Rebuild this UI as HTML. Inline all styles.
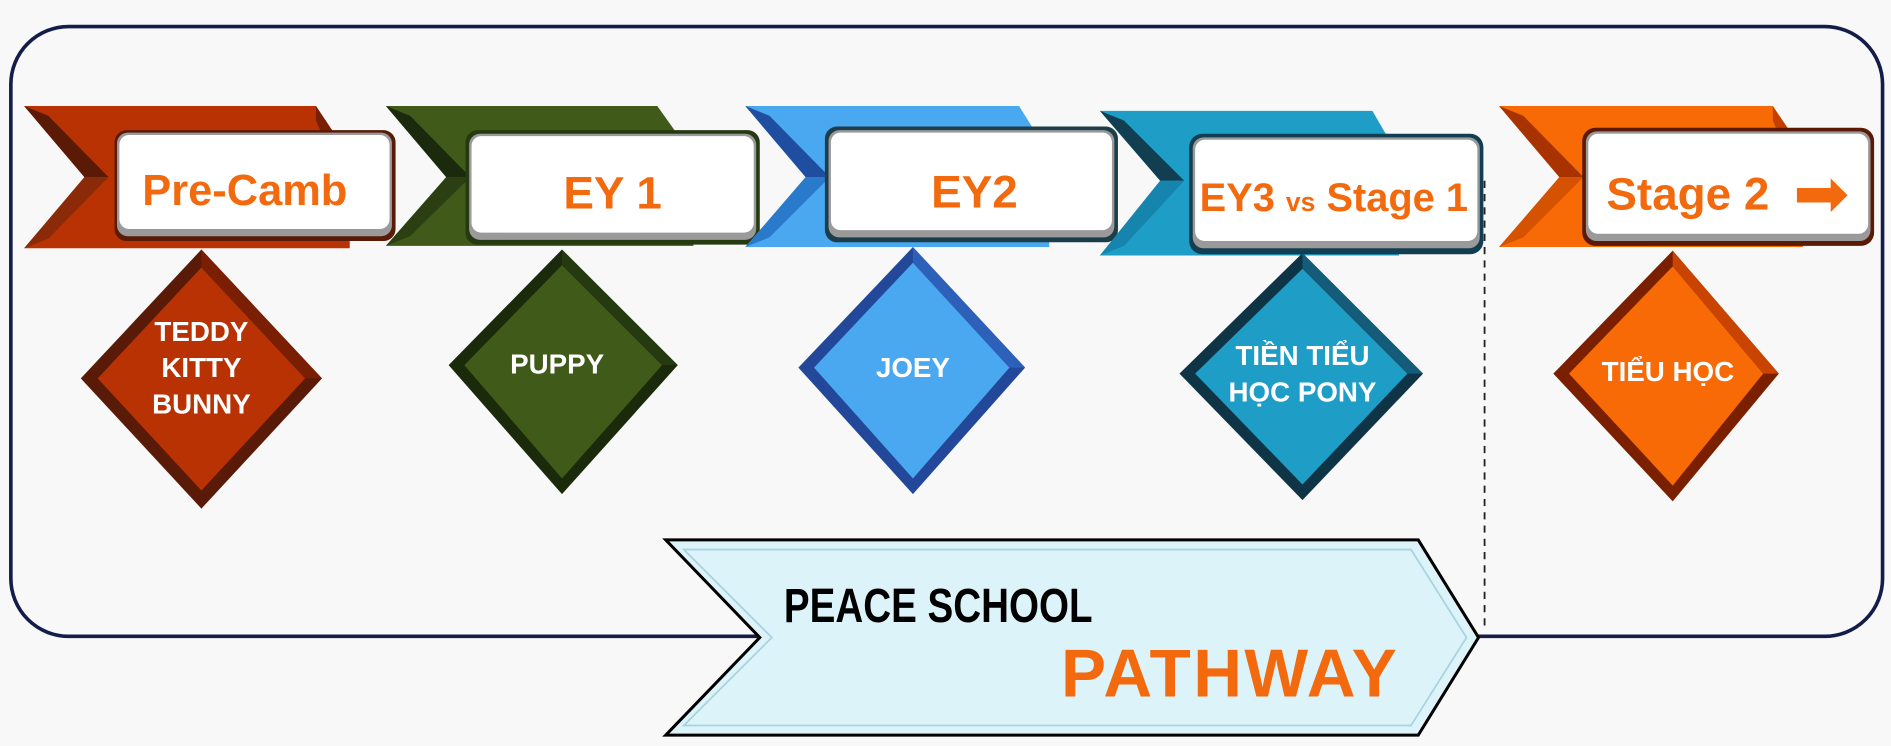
<!DOCTYPE html>
<html><head><meta charset="utf-8"><style>
html,body{margin:0;padding:0;background:#f8f8f8;width:1891px;height:746px;overflow:hidden}
svg{display:block}
.t{font-family:"Liberation Sans Narrow","Liberation Sans",sans-serif;font-weight:bold}
</style></head><body>
<svg width="1891" height="746" viewBox="0 0 1568 619" preserveAspectRatio="none" xmlns="http://www.w3.org/2000/svg">
<rect x="0" y="0" width="1568" height="619" fill="#f8f8f8"/>
<rect x="9" y="22" width="1552" height="506" rx="48" ry="48" fill="#f8f8f8" stroke="#141d4a" stroke-width="3"/>
<line x1="1231" y1="150" x2="1231" y2="522" stroke="#222" stroke-width="1.5" stroke-dasharray="6,5"/>

<!-- segment 1 red -->
<polygon points="20,88 262,88 290,130 290,206 20,206 70,147" fill="#b83204"/>
<polygon points="20,88 40,96 90,147 70,147" fill="#5a1a06"/>
<polygon points="20,206 70,147 90,147 40,198 " fill="#8a2a08"/>
<polygon points="262,88 290,130 275,130 262,100" fill="#7a1e04"/>
<rect x="95" y="108" width="233" height="92" rx="10" fill="#5a1a06"/>
<rect x="97" y="110" width="228" height="86" rx="9" fill="#9a9a9a"/>
<rect x="99" y="112" width="224" height="78" rx="8" fill="#fff"/>
<text class="t" x="203" y="170" font-size="36" fill="#f26a0d" text-anchor="middle">Pre-Camb</text>
<polygon points="167,207 267,314 167,422 67,314" fill="#5a1a08"/>
<polygon points="167,222 253,314 167,407 81,314" fill="#b83204"/>
<polygon points="167,207 167,222 253,314 267,314" fill="#7a1e04"/>
<text class="t" x="167" y="283" font-size="23" fill="#fff" text-anchor="middle">TEDDY</text>
<text class="t" x="167" y="313" font-size="23" fill="#fff" text-anchor="middle">KITTY</text>
<text class="t" x="167" y="343" font-size="23" fill="#fff" text-anchor="middle">BUNNY</text>

<!-- segment 2 green -->
<polygon points="320,88 545,88 575,130 575,204 320,204 370,147" fill="#3f5a19"/>
<polygon points="320,88 340,96 390,147 370,147" fill="#1b2a0c"/>
<polygon points="320,204 370,147 390,147 340,196" fill="#2b3f12"/>
<rect x="386" y="108" width="244" height="95" rx="10" fill="#253a10"/>
<rect x="389" y="111" width="238" height="88" rx="9" fill="#9a9a9a"/>
<rect x="391" y="113" width="234" height="80" rx="8" fill="#fff"/>
<text class="t" x="508" y="173" font-size="38" fill="#f26a0d" text-anchor="middle">EY 1</text>
<polygon points="466,207 562,303 466,410 372,303" fill="#1a2a0a"/>
<polygon points="466,220 549,303 466,397 385,303" fill="#3f5a19"/>
<polygon points="466,207 466,220 549,303 562,303" fill="#253a10"/>
<text class="t" x="462" y="310" font-size="23" fill="#fff" text-anchor="middle">PUPPY</text>

<!-- segment 3 blue -->
<polygon points="618,88 845,88 870,128 870,205 618,205 668,147" fill="#4aa8f0"/>
<polygon points="618,88 638,96 688,147 668,147" fill="#1f4ea0"/>
<polygon points="618,205 668,147 688,147 638,197" fill="#2a7acc"/>
<rect x="684" y="105" width="243" height="96" rx="10" fill="#1c3d4a"/>
<rect x="687" y="108" width="237" height="89" rx="9" fill="#9a9a9a"/>
<rect x="689" y="110" width="233" height="81" rx="8" fill="#fff"/>
<text class="t" x="808" y="172" font-size="38" fill="#f26a0d" text-anchor="middle">EY2</text>
<polygon points="757,205 850,305 757,410 662,305" fill="#23489a"/>
<polygon points="757,218 837,305 757,397 675,305" fill="#4aa8f0"/>
<polygon points="757,205 757,218 837,305 850,305" fill="#2d60b8"/>
<text class="t" x="757" y="313" font-size="23" fill="#fff" text-anchor="middle">JOEY</text>

<!-- segment 4 teal -->
<polygon points="912,92 1138,92 1160,130 1160,212 912,212 962,150" fill="#1e9ec6"/>
<polygon points="912,92 932,100 982,150 962,150" fill="#123e52"/>
<polygon points="912,212 962,150 982,150 932,204" fill="#1685ad"/>
<rect x="986" y="111" width="244" height="100" rx="11" fill="#123e52"/>
<rect x="989" y="114" width="238" height="92" rx="9" fill="#9a9a9a"/>
<rect x="991" y="116" width="234" height="84" rx="8" fill="#fff"/>
<text class="t" x="1106" y="175" font-size="33" fill="#f26a0d" text-anchor="middle">EY3 <tspan font-size="22">vs</tspan> Stage 1</text>
<polygon points="1080,210 1180,310 1080,415 978,310" fill="#0f3446"/>
<polygon points="1080,223 1167,310 1080,402 991,310" fill="#1e9ec6"/>
<polygon points="1080,210 1080,223 1167,310 1180,310" fill="#145c7a"/>
<text class="t" x="1080" y="303" font-size="23" fill="#fff" text-anchor="middle">TIỀN TIỂU</text>
<text class="t" x="1080" y="333" font-size="23" fill="#fff" text-anchor="middle">HỌC PONY</text>

<!-- segment 5 orange -->
<polygon points="1243,88 1470,88 1495,125 1495,205 1243,205 1293,147" fill="#f76a06"/>
<polygon points="1243,88 1263,96 1313,147 1293,147" fill="#a83300"/>
<polygon points="1243,205 1293,147 1313,147 1263,197" fill="#d45200"/>
<polygon points="1470,88 1495,125 1480,125 1470,100" fill="#c44000"/>
<rect x="1312" y="106" width="242" height="98" rx="11" fill="#5a1a06"/>
<rect x="1315" y="109" width="236" height="91" rx="9" fill="#9a9a9a"/>
<rect x="1317" y="111" width="232" height="83" rx="8" fill="#fff"/>
<text class="t" x="1332" y="174" font-size="38" fill="#f26a0d">Stage 2</text>
<polygon points="1490,156 1518,156 1518,148 1532,162 1518,176 1518,168 1490,168" fill="#f26a0d"/>
<polygon points="1387,208 1475,310 1387,416 1288,310" fill="#7a2000"/>
<polygon points="1387,221 1462,310 1387,403 1301,310" fill="#f76a06"/>
<polygon points="1387,208 1387,221 1462,310 1475,310" fill="#c84400"/>
<text class="t" x="1383" y="316" font-size="23" fill="#fff" text-anchor="middle">TIỂU HỌC</text>

<!-- pathway -->
<polygon points="552,448 1176,448 1226,529 1176,610 552,610 630,529" fill="#dcf3fa" stroke="#000" stroke-width="2.5"/>
<polygon points="567,456 1170,456 1216,529 1170,602 567,602 640,529" fill="none" stroke="#a9d4de" stroke-width="1.5"/>
<text class="t" x="650" y="516" font-size="40" fill="#000" transform="translate(650,516) scale(0.8,1) translate(-650,-516)">PEACE SCHOOL</text>
<text class="t" x="1020" y="578" font-size="56" fill="#f26a0d" text-anchor="middle" style="font-family:'Liberation Sans',sans-serif;letter-spacing:2px">PATHWAY</text>
</svg>
</body></html>
